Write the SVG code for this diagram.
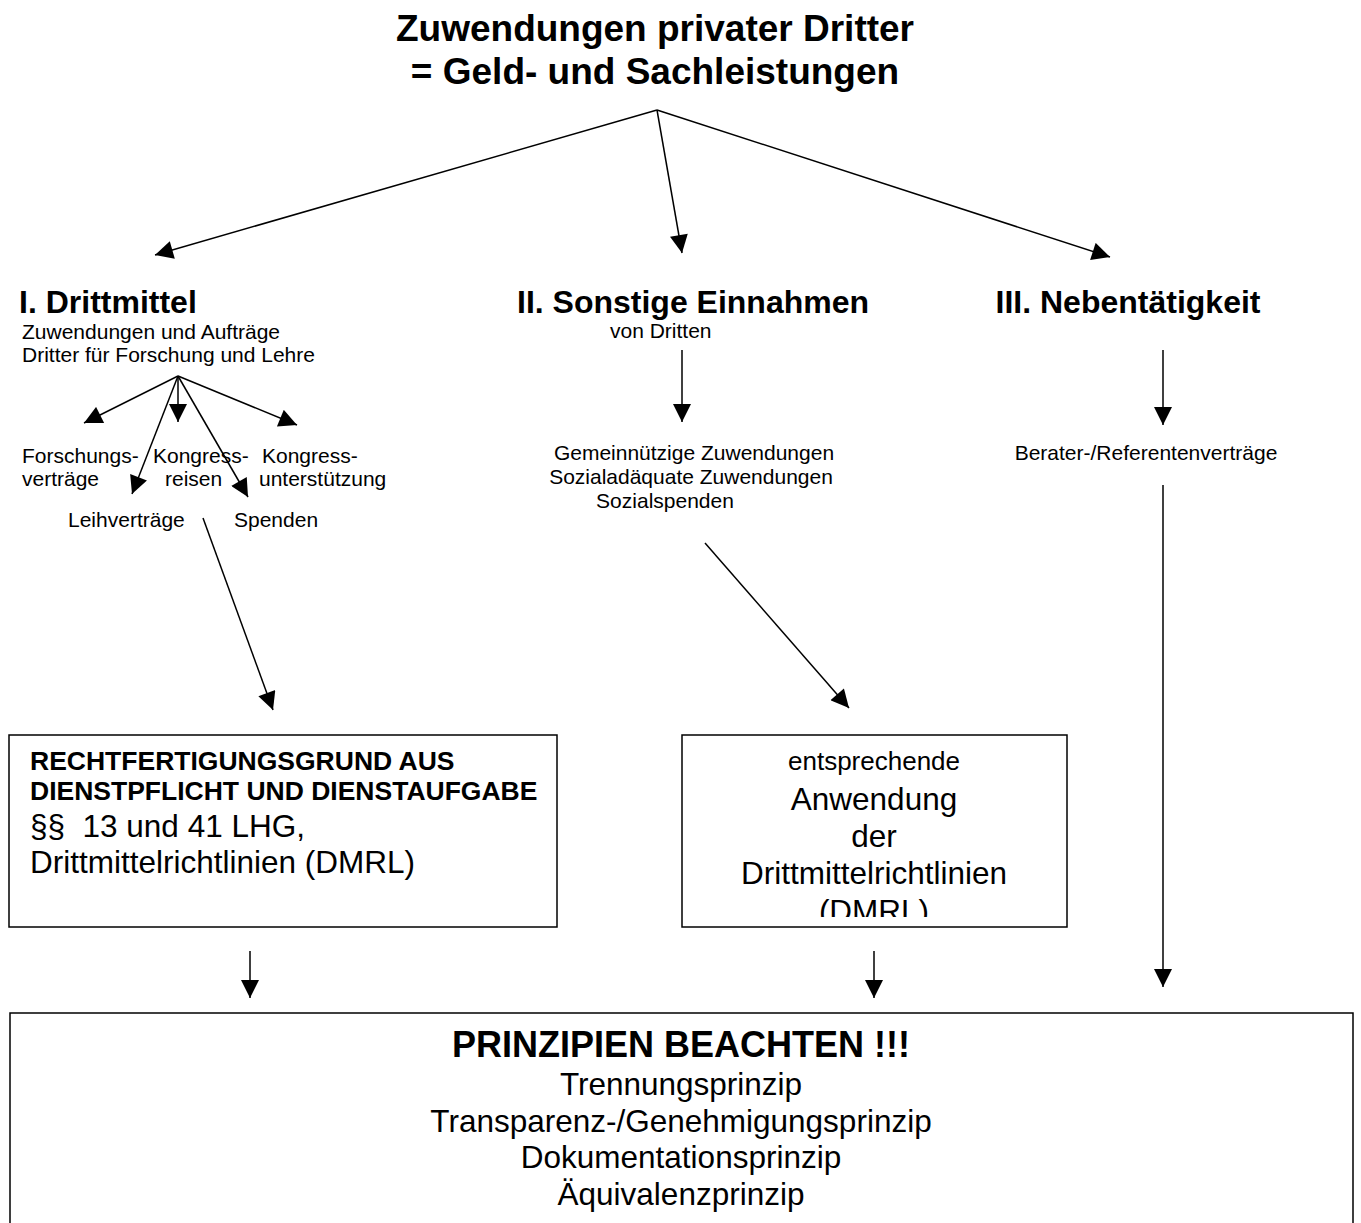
<svg xmlns="http://www.w3.org/2000/svg" width="1361" height="1223" viewBox="0 0 1361 1223">
<defs>
<marker id="ah" viewBox="0 0 10 10" refX="10" refY="5" markerWidth="20" markerHeight="18" markerUnits="userSpaceOnUse" orient="auto">
<path d="M0,0 L10,5 L0,10 z" fill="#000"/>
</marker>
<clipPath id="clip2"><rect x="683" y="736" width="384" height="181"/></clipPath>
</defs>
<style>
text{font-family:"Liberation Sans",Arial,sans-serif;fill:#000}
.b{font-weight:bold}
.t{font-size:37px;font-weight:bold}
.h{font-size:32px;font-weight:bold}
.s{font-size:21px}
.m{font-size:31.5px}
.box{fill:#fff;stroke:#000;stroke-width:1.5}
.c{stroke:#000;stroke-width:1.5;fill:none;marker-end:url(#ah)}
</style>
<rect width="1361" height="1223" fill="#fff"/>

<g id="title">
<text class="t" x="655" y="41" text-anchor="middle">Zuwendungen privater Dritter</text>
<text class="t" x="655" y="84" text-anchor="middle">= Geld- und Sachleistungen</text>
</g>

<g id="drittmittel">
<text class="h" x="19" y="313">I. Drittmittel</text>
<text class="s" x="22" y="339">Zuwendungen und Aufträge</text>
<text class="s" x="22" y="362">Dritter für Forschung und Lehre</text>
</g>
<g id="forschungsvertraege">
<text class="s" x="22" y="463">Forschungs-</text>
<text class="s" x="22" y="486">verträge</text>
</g>
<g id="kongressreisen">
<text class="s" x="153" y="463">Kongress-</text>
<text class="s" x="165" y="486">reisen</text>
</g>
<g id="kongressunterstuetzung">
<text class="s" x="262" y="463">Kongress-</text>
<text class="s" x="259" y="486">unterstützung</text>
</g>
<g id="leihvertraege"><text class="s" x="68" y="527">Leihverträge</text></g>
<g id="spenden"><text class="s" x="234" y="527">Spenden</text></g>

<g id="sonstige">
<text class="h" x="517" y="313">II. Sonstige Einnahmen</text>
<text class="s" x="610" y="338">von Dritten</text>
</g>
<g id="zuwendungen">
<text class="s" x="694" y="460" text-anchor="middle">Gemeinnützige Zuwendungen</text>
<text class="s" x="691" y="484" text-anchor="middle">Sozialadäquate Zuwendungen</text>
<text class="s" x="665" y="508" text-anchor="middle">Sozialspenden</text>
</g>

<g id="nebentaetigkeit">
<text class="h" x="1128" y="313" text-anchor="middle">III. Nebentätigkeit</text>
</g>
<g id="berater"><text class="s" x="1146" y="460" text-anchor="middle">Berater-/Referentenverträge</text></g>

<g id="rechtfertigung">
<rect class="box" x="9" y="735" width="548" height="192"/>
<text class="b" x="30" y="770" font-size="26.5">RECHTFERTIGUNGSGRUND AUS</text>
<text class="b" x="30" y="800" font-size="26.5">DIENSTPFLICHT UND DIENSTAUFGABE</text>
<text class="m" x="30" y="837" xml:space="preserve">§§  13 und 41 LHG,</text>
<text class="m" x="30" y="873">Drittmittelrichtlinien (DMRL)</text>
</g>

<g id="anwendung">
<rect class="box" x="682" y="735" width="385" height="192"/>
<g clip-path="url(#clip2)">
<text x="874" y="770" font-size="26" text-anchor="middle">entsprechende</text>
<text class="m" x="874" y="810" text-anchor="middle">Anwendung</text>
<text class="m" x="874" y="847" text-anchor="middle">der</text>
<text class="m" x="874" y="884" text-anchor="middle">Drittmittelrichtlinien</text>
<text class="m" x="874" y="922" text-anchor="middle">(DMRL)</text>
</g>
</g>

<g id="prinzipien">
<path d="M10,1223 V1013 H1353 V1223" fill="#fff" stroke="#000" stroke-width="1.5"/>
<text class="b" x="681" y="1057" font-size="36" text-anchor="middle">PRINZIPIEN BEACHTEN !!!</text>
<text class="m" x="681" y="1095" text-anchor="middle">Trennungsprinzip</text>
<text class="m" x="681" y="1132" text-anchor="middle">Transparenz-/Genehmigungsprinzip</text>
<text class="m" x="681" y="1168" text-anchor="middle">Dokumentationsprinzip</text>
<text class="m" x="681" y="1205" text-anchor="middle">Äquivalenzprinzip</text>
</g>

<g id="connectors">
<line class="c" x1="657" y1="110" x2="155" y2="255"/>
<line class="c" x1="657" y1="110" x2="682" y2="253"/>
<line class="c" x1="657" y1="110" x2="1110" y2="257"/>
<line class="c" x1="178" y1="376" x2="84" y2="423"/>
<line class="c" x1="178" y1="376" x2="178" y2="422"/>
<line class="c" x1="178" y1="376" x2="297" y2="425"/>
<line class="c" x1="178" y1="376" x2="132" y2="494"/>
<line class="c" x1="178" y1="376" x2="248" y2="497"/>
<line class="c" x1="203" y1="518" x2="273" y2="710"/>
<line class="c" x1="682" y1="350" x2="682" y2="422"/>
<line class="c" x1="705" y1="543" x2="849" y2="708"/>
<line class="c" x1="1163" y1="350" x2="1163" y2="425"/>
<line class="c" x1="1163" y1="485" x2="1163" y2="987"/>
<line class="c" x1="250" y1="951" x2="250" y2="998"/>
<line class="c" x1="874" y1="951" x2="874" y2="998"/>
</g>
</svg>
